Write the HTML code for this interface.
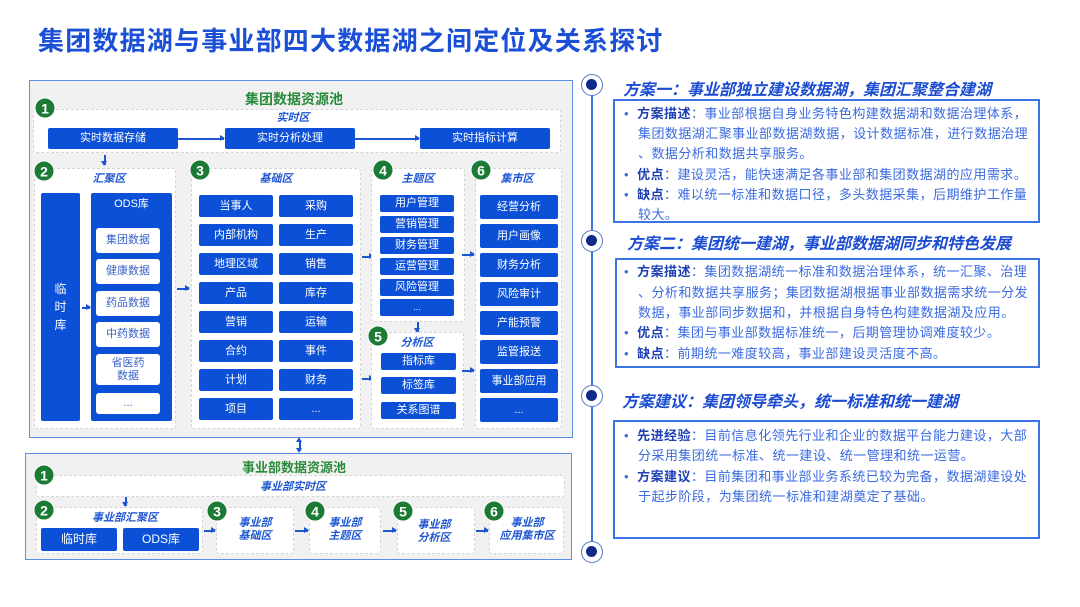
<!DOCTYPE html>
<html><head><meta charset="utf-8">
<style>
*{margin:0;padding:0;box-sizing:border-box}
body{width:1080px;height:607px;background:#fff;position:relative;overflow:hidden;font-family:"Liberation Sans","Noto Sans CJK SC",sans-serif}
.a{position:absolute}
.outer{position:absolute;background:#f1f1f1;border:1.5px solid #5b8ee6}
.zone{position:absolute;background:#fff;border:1px dashed #d4d4d4;border-radius:3px}
.btn{position:absolute;background:#0b50d6;color:#fff;font-size:11px;display:flex;align-items:center;justify-content:center;border-radius:2px;text-align:center;line-height:13px}
.wb{position:absolute;background:#fff;color:#3a62c9;font-size:11px;display:flex;align-items:center;justify-content:center;border-radius:3px;text-align:center;line-height:13px}
.lbl{position:absolute;color:#1e55d0;font-weight:bold;font-style:italic;font-size:11px;transform:translateX(-50%);white-space:nowrap;text-align:center;line-height:13px}
.num{position:absolute;width:21px;height:21px;border-radius:50%;background:#1b7a34;color:#fff;font-weight:bold;font-size:14px;display:flex;align-items:center;justify-content:center;transform:translate(-50%,-50%);border:1px solid #fff;z-index:2}
.gt{position:absolute;color:#2a8a3a;font-weight:bold;font-size:14px;transform:translateX(-50%);white-space:nowrap;z-index:3}
.ar{position:absolute;height:1.5px;background:#1e55d0}
.ar::after{content:"";position:absolute;right:-1px;top:-3px;border-left:5px solid #1e55d0;border-top:3.5px solid transparent;border-bottom:3.5px solid transparent}
.dn{position:absolute;width:1.5px;background:#1e55d0}
.dn::after{content:"";position:absolute;bottom:-1px;left:-3px;border-top:5px solid #1e55d0;border-left:3.5px solid transparent;border-right:3.5px solid transparent}
.h{position:absolute;color:#1a4bd0;font-weight:bold;font-style:italic;font-size:16px;white-space:nowrap}
.box{position:absolute;border:2px solid #3b73e3;background:#fff}
.ln{position:absolute;font-size:13px;color:#3a6ae0;white-space:nowrap;line-height:20px;letter-spacing:0.45px}
.ln b{color:#1d3fb5}
.dot{position:absolute;width:22px;height:22px;border-radius:50%;border:1.5px solid #5578c8;background:#fff;transform:translate(-50%,-50%)}
.dot::after{content:"";position:absolute;left:4px;top:4px;width:11px;height:11px;border-radius:50%;background:#0d2a8a}
</style></head><body>

<div class="a" style="left:38px;top:21px;font-size:26px;font-weight:bold;color:#1a4fd6;white-space:nowrap;letter-spacing:1.2px">集团数据湖与事业部四大数据湖之间定位及关系探讨</div>

<!-- top pool -->
<div class="outer" style="left:29px;top:80px;width:544px;height:358px"></div>
<div class="zone" style="left:33px;top:109px;width:528px;height:44px"></div>
<div class="gt" style="left:294px;top:89px">集团数据资源池</div>
<div class="lbl" style="left:293px;top:112px">实时区</div>
<div class="btn" style="left:48px;top:128px;width:130px;height:21px">实时数据存储</div>
<div class="btn" style="left:225px;top:128px;width:130px;height:21px">实时分析处理</div>
<div class="btn" style="left:420px;top:128px;width:130px;height:21px">实时指标计算</div>
<div class="ar" style="left:178px;top:138px;width:46px"></div>
<div class="ar" style="left:355px;top:138px;width:64px"></div>
<div class="dn" style="left:104px;top:155px;height:10px"></div>
<div class="num" style="left:45px;top:108px">1</div>

<!-- zone 2 -->
<div class="zone" style="left:34px;top:168px;width:142px;height:261px"></div>
<div class="lbl" style="left:109px;top:173px">汇聚区</div>
<div class="btn" style="left:41px;top:193px;width:39px;height:228px;flex-direction:column;font-size:12px;line-height:18px">临<br>时<br>库</div>
<div class="btn" style="left:91px;top:193px;width:81px;height:228px;align-items:flex-start;padding-top:5px;font-size:11px">ODS库</div>
<div class="wb" style="left:96px;top:228px;width:64px;height:25px">集团数据</div>
<div class="wb" style="left:96px;top:259px;width:64px;height:25px">健康数据</div>
<div class="wb" style="left:96px;top:291px;width:64px;height:25px">药品数据</div>
<div class="wb" style="left:96px;top:322px;width:64px;height:25px">中药数据</div>
<div class="wb" style="left:96px;top:354px;width:64px;height:31px">省医药<br>数据</div>
<div class="wb" style="left:96px;top:393px;width:64px;height:21px">...</div>
<div class="ar" style="left:82px;top:307px;width:8px"></div>
<div class="ar" style="left:177px;top:288px;width:12px"></div>
<div class="num" style="left:44px;top:171px">2</div>

<!-- zone 3 -->
<div class="zone" style="left:191px;top:168px;width:170px;height:261px"></div>
<div class="lbl" style="left:276px;top:173px">基础区</div>
<div class="btn" style="left:199px;top:195px;width:74px;height:22px">当事人</div><div class="btn" style="left:279px;top:195px;width:74px;height:22px">采购</div>
<div class="btn" style="left:199px;top:224px;width:74px;height:22px">内部机构</div><div class="btn" style="left:279px;top:224px;width:74px;height:22px">生产</div>
<div class="btn" style="left:199px;top:253px;width:74px;height:22px">地理区域</div><div class="btn" style="left:279px;top:253px;width:74px;height:22px">销售</div>
<div class="btn" style="left:199px;top:282px;width:74px;height:22px">产品</div><div class="btn" style="left:279px;top:282px;width:74px;height:22px">库存</div>
<div class="btn" style="left:199px;top:311px;width:74px;height:22px">营销</div><div class="btn" style="left:279px;top:311px;width:74px;height:22px">运输</div>
<div class="btn" style="left:199px;top:340px;width:74px;height:22px">合约</div><div class="btn" style="left:279px;top:340px;width:74px;height:22px">事件</div>
<div class="btn" style="left:199px;top:369px;width:74px;height:22px">计划</div><div class="btn" style="left:279px;top:369px;width:74px;height:22px">财务</div>
<div class="btn" style="left:199px;top:398px;width:74px;height:22px">项目</div><div class="btn" style="left:279px;top:398px;width:74px;height:22px">...</div>
<div class="ar" style="left:362px;top:256px;width:11px"></div>
<div class="ar" style="left:362px;top:378px;width:11px"></div>
<div class="num" style="left:200px;top:170px">3</div>

<!-- zone 4 -->
<div class="zone" style="left:371px;top:168px;width:94px;height:154px"></div>
<div class="lbl" style="left:418px;top:173px">主题区</div>
<div class="btn" style="left:380px;top:195px;width:74px;height:17px">用户管理</div>
<div class="btn" style="left:380px;top:216px;width:74px;height:17px">营销管理</div>
<div class="btn" style="left:380px;top:237px;width:74px;height:17px">财务管理</div>
<div class="btn" style="left:380px;top:258px;width:74px;height:17px">运营管理</div>
<div class="btn" style="left:380px;top:279px;width:74px;height:17px">风险管理</div>
<div class="btn" style="left:380px;top:299px;width:74px;height:17px;font-size:9px">...</div>
<div class="dn" style="left:417px;top:322px;height:10px"></div>
<div class="num" style="left:383px;top:170px">4</div>

<!-- zone 5 -->
<div class="zone" style="left:371px;top:332px;width:93px;height:97px"></div>
<div class="lbl" style="left:417px;top:337px">分析区</div>
<div class="btn" style="left:381px;top:353px;width:75px;height:17px">指标库</div>
<div class="btn" style="left:381px;top:377px;width:75px;height:17px">标签库</div>
<div class="btn" style="left:381px;top:402px;width:75px;height:17px">关系图谱</div>
<div class="num" style="left:378px;top:336px">5</div>

<!-- zone 6 -->
<div class="ar" style="left:462px;top:254px;width:12px"></div>
<div class="ar" style="left:462px;top:370px;width:12px"></div>
<div class="zone" style="left:475px;top:168px;width:87px;height:261px"></div>
<div class="lbl" style="left:517px;top:173px">集市区</div>
<div class="btn" style="left:480px;top:195px;width:78px;height:24px">经营分析</div>
<div class="btn" style="left:480px;top:224px;width:78px;height:24px">用户画像</div>
<div class="btn" style="left:480px;top:253px;width:78px;height:24px">财务分析</div>
<div class="btn" style="left:480px;top:282px;width:78px;height:24px">风险审计</div>
<div class="btn" style="left:480px;top:311px;width:78px;height:24px">产能预警</div>
<div class="btn" style="left:480px;top:340px;width:78px;height:24px">监管报送</div>
<div class="btn" style="left:480px;top:369px;width:78px;height:24px">事业部应用</div>
<div class="btn" style="left:480px;top:398px;width:78px;height:24px">...</div>
<div class="num" style="left:481px;top:170px">6</div>

<!-- double arrow -->
<div class="a" style="left:299px;top:441px;width:1.5px;height:10px;background:#1e55d0"></div>
<div class="a" style="left:296px;top:437px;border-bottom:5px solid #1e55d0;border-left:3.5px solid transparent;border-right:3.5px solid transparent"></div>
<div class="a" style="left:296px;top:448px;border-top:5px solid #1e55d0;border-left:3.5px solid transparent;border-right:3.5px solid transparent"></div>

<!-- bottom pool -->
<div class="outer" style="left:25px;top:453px;width:547px;height:107px"></div>
<div class="zone" style="left:36px;top:475px;width:529px;height:22px"></div>
<div class="gt" style="left:294px;top:457px;font-size:13px">事业部数据资源池</div>
<div class="lbl" style="left:293px;top:481px">事业部实时区</div>
<div class="num" style="left:44px;top:475px">1</div>
<div class="dn" style="left:125px;top:497px;height:9px"></div>
<div class="zone" style="left:36px;top:507px;width:167px;height:47px"></div>
<div class="lbl" style="left:125px;top:512px">事业部汇聚区</div>
<div class="btn" style="left:41px;top:528px;width:76px;height:23px;font-size:12px">临时库</div>
<div class="btn" style="left:123px;top:528px;width:76px;height:23px;font-size:12px">ODS库</div>
<div class="num" style="left:44px;top:510px">2</div>
<div class="ar" style="left:204px;top:530px;width:11px"></div>
<div class="zone" style="left:216px;top:507px;width:78px;height:47px"></div>
<div class="lbl" style="left:255px;top:517px">事业部<br>基础区</div>
<div class="num" style="left:217px;top:511px">3</div>
<div class="ar" style="left:295px;top:530px;width:13px"></div>
<div class="zone" style="left:309px;top:507px;width:72px;height:47px"></div>
<div class="lbl" style="left:345px;top:517px">事业部<br>主题区</div>
<div class="num" style="left:315px;top:511px">4</div>
<div class="ar" style="left:383px;top:530px;width:13px"></div>
<div class="zone" style="left:397px;top:507px;width:78px;height:47px"></div>
<div class="lbl" style="left:434px;top:519px">事业部<br>分析区</div>
<div class="num" style="left:403px;top:511px">5</div>
<div class="ar" style="left:476px;top:530px;width:12px"></div>
<div class="zone" style="left:489px;top:507px;width:75px;height:47px"></div>
<div class="lbl" style="left:527px;top:517px">事业部<br>应用集市区</div>
<div class="num" style="left:494px;top:511px">6</div>

<!-- timeline -->
<div class="a" style="left:591px;top:85px;width:2px;height:467px;background:#3b73e3"></div>
<div class="dot" style="left:592px;top:85px"></div>
<div class="dot" style="left:592px;top:241px"></div>
<div class="dot" style="left:592px;top:396px"></div>
<div class="dot" style="left:592px;top:552px"></div>

<div class="h" style="left:623px;top:76px">方案一：事业部独立建设数据湖，集团汇聚整合建湖</div>
<div class="box" style="left:613px;top:99px;width:427px;height:124px"></div>
<div class="ln" style="left:624px;top:104px">•&nbsp;&nbsp;<b>方案描述</b>：事业部根据自身业务特色构建数据湖和数据治理体系，</div>
<div class="ln" style="left:638px;top:124px">集团数据湖汇聚事业部数据湖数据，设计数据标准，进行数据治理</div>
<div class="ln" style="left:638px;top:144px">、数据分析和数据共享服务。</div>
<div class="ln" style="left:624px;top:165px">•&nbsp;&nbsp;<b>优点</b>：建设灵活，能快速满足各事业部和集团数据湖的应用需求。</div>
<div class="ln" style="left:624px;top:185px">•&nbsp;&nbsp;<b>缺点</b>：难以统一标准和数据口径，多头数据采集，后期维护工作量</div>
<div class="ln" style="left:638px;top:205px">较大。</div>

<div class="h" style="left:627px;top:230px">方案二：集团统一建湖，事业部数据湖同步和特色发展</div>
<div class="box" style="left:615px;top:258px;width:425px;height:110px"></div>
<div class="ln" style="left:624px;top:262px">•&nbsp;&nbsp;<b>方案描述</b>：集团数据湖统一标准和数据治理体系，统一汇聚、治理</div>
<div class="ln" style="left:638px;top:283px">、分析和数据共享服务；集团数据湖根据事业部数据需求统一分发</div>
<div class="ln" style="left:638px;top:303px">数据，事业部同步数据和，并根据自身特色构建数据湖及应用。</div>
<div class="ln" style="left:624px;top:323px">•&nbsp;&nbsp;<b>优点</b>：集团与事业部数据标准统一，后期管理协调难度较少。</div>
<div class="ln" style="left:624px;top:344px">•&nbsp;&nbsp;<b>缺点</b>：前期统一难度较高，事业部建设灵活度不高。</div>

<div class="h" style="left:622px;top:388px">方案建议：集团领导牵头，统一标准和统一建湖</div>
<div class="box" style="left:613px;top:420px;width:427px;height:119px"></div>
<div class="ln" style="left:624px;top:426px">•&nbsp;&nbsp;<b>先进经验</b>：目前信息化领先行业和企业的数据平台能力建设，大部</div>
<div class="ln" style="left:638px;top:446px">分采用集团统一标准、统一建设、统一管理和统一运营。</div>
<div class="ln" style="left:624px;top:467px">•&nbsp;&nbsp;<b>方案建议</b>：目前集团和事业部业务系统已较为完备，数据湖建设处</div>
<div class="ln" style="left:638px;top:487px">于起步阶段，为集团统一标准和建湖奠定了基础。</div>

</body></html>
